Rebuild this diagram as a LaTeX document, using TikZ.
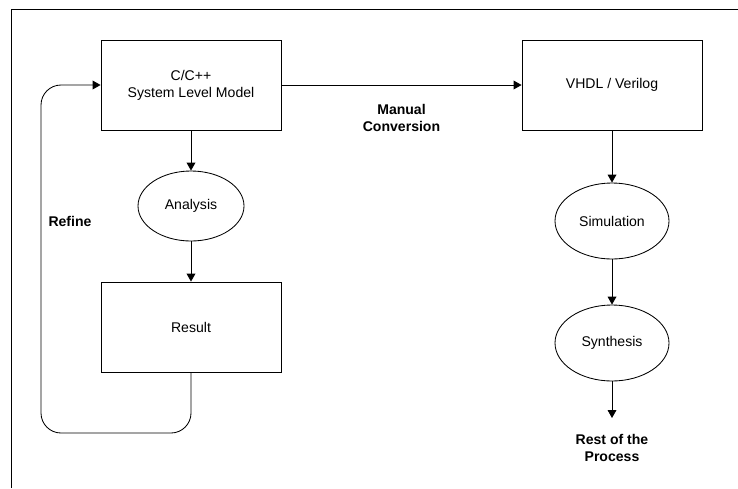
\documentclass[tikz,border=0pt]{standalone}
\usepackage{fontspec}
\setmainfont{Liberation Sans}
\usetikzlibrary{arrows.meta,shapes.geometric}
\tikzset{
  box/.style={draw,minimum width=4.5cm,minimum height=2.25cm,align=center},
  oval/.style={draw,ellipse,inner sep=0pt},
  flow/.style={-{Triangle[length=0.2cm,width=0.22cm]},line width=0.6pt},
  tag/.style={font=\bfseries,align=center}
}
\begin{document}
\begin{tikzpicture}[line width=0.6pt]
  \useasboundingbox (0,0) rectangle (18.45,-12.2);
  \draw (0.275,-12.2) -- (0.275,-0.225) -- (18.45,-0.225);
  % left side
  \node[box] (model) at (4.775,-2.125) {C/C++\\System Level Model};
  \node[oval,minimum width=2.65cm,minimum height=1.75cm] (analysis) at (4.775,-5.15) {Analysis};
  \node[box] (result) at (4.775,-8.175) {Result};
  \draw[flow] (model) -- (analysis);
  \draw[flow] (analysis) -- (result);
  \draw[flow,rounded corners=0.5cm] (result.south) |- (1.025,-10.825) |- (model.west);
  \node[tag] (refine) at (1.75,-5.525) {Refine};
  % right side
  \node[box] (vhdl) at (15.3,-2.125) {VHDL / Verilog};
  \node[oval,minimum width=2.85cm,minimum height=1.9cm] (sim) at (15.3,-5.525) {Simulation};
  \node[oval,minimum width=2.85cm,minimum height=1.9cm] (synth) at (15.3,-8.575) {Synthesis};
  \coordinate (restend) at (15.3,-10.45);
  \node[tag] (rest) at (15.3,-11.2) {Rest of the\\Process};
  \draw[flow] (model) -- (vhdl) node[tag,midway,below=0.35cm] (manual) {Manual\\Conversion};
  \draw[flow] (vhdl) -- (sim);
  \draw[flow] (sim) -- (synth);
  \draw[flow] (synth) -- (restend);
\end{tikzpicture}
\end{document}
